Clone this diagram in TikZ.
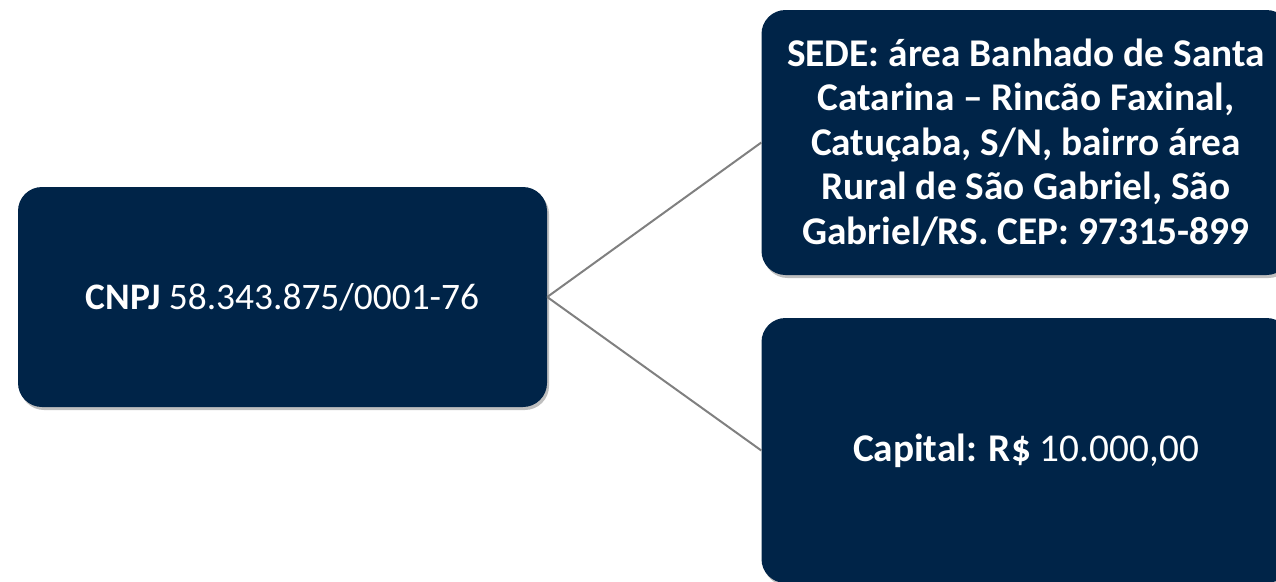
\documentclass[tikz,border=0pt]{standalone}
\usepackage{fontspec}
\setmainfont{Carlito}
\usetikzlibrary{shadows}
\definecolor{navy}{RGB}{0,36,72}
\definecolor{linkgray}{RGB}{128,128,128}
\tikzset{
  card/.style={draw=none, fill=navy, rounded corners=24pt, text=white,
    align=center, font=\fontsize{39.3}{44.5}\selectfont, inner sep=0pt,
    drop shadow={shadow xshift=2pt, shadow yshift=-3pt, opacity=0.25, fill=black}},
  link/.style={draw=linkgray, line width=2pt}
}
\begin{document}
\begin{tikzpicture}[x=1pt,y=-1pt]
\useasboundingbox (0,0) rectangle (1276,581);
\node[card, minimum width=529pt, minimum height=220pt, font=\fontsize{37.4}{44.5}\selectfont] (cnpj) at (282.5,297)
  {\textbf{CNPJ} 58.343.875/0001-76};
\node[card, minimum width=529pt, minimum height=265pt] (sede) at (1026,142.5)
  {\textbf{SEDE: área Banhado de Santa}\\\textbf{Catarina – Rincão Faxinal,}\\\textbf{Catuçaba, S/N, bairro área}\\\textbf{Rural de São Gabriel, São}\\\textbf{Gabriel/RS. CEP: 97315-899}};
\node[card, minimum width=529pt, minimum height=265pt] (capital) at (1026,450.5)
  {\textbf{Capital: R\$} 10.000,00};
\draw[link] (cnpj.east) -- (sede.west);
\draw[link] (cnpj.east) -- (capital.west);
\end{tikzpicture}
\end{document}
